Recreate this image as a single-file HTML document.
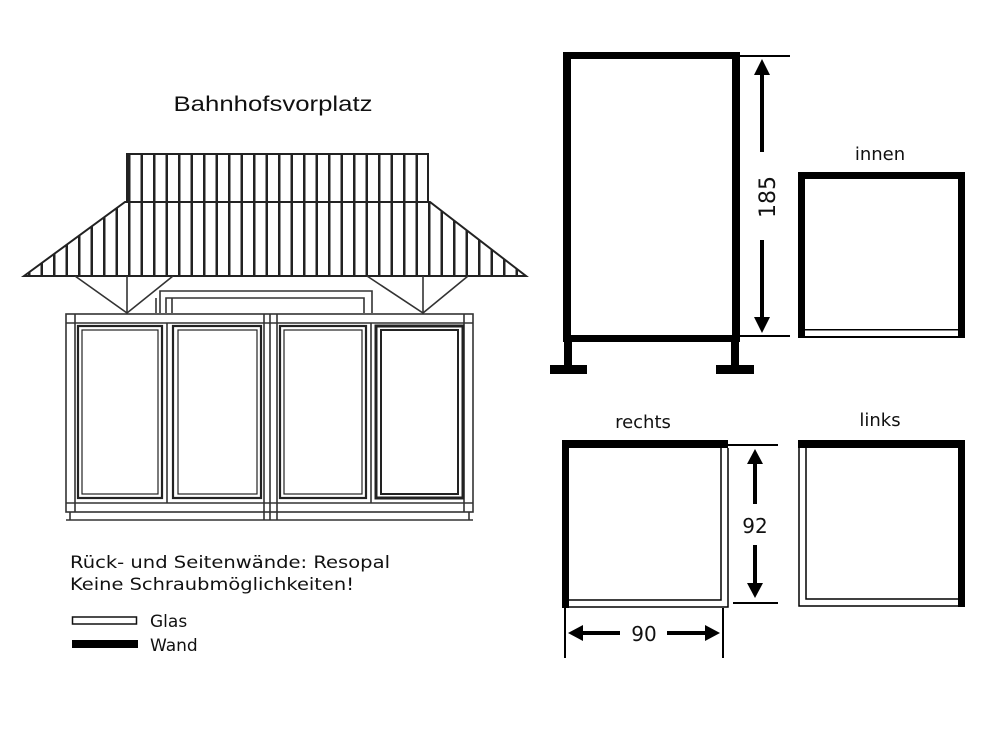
<!DOCTYPE html>
<html><head><meta charset="utf-8"><style>
html,body{margin:0;padding:0;background:#fff;}
svg{display:block;}
text{font-family:"DejaVu Sans","Liberation Sans",sans-serif;fill:#111;}
</style></head><body>
<svg width="1000" height="750" viewBox="0 0 1000 750" xmlns="http://www.w3.org/2000/svg">
<defs>
<pattern id="st" patternUnits="userSpaceOnUse" x="128" y="0" width="12.5" height="10">
<rect x="0" y="0" width="2.5" height="10" fill="#222"/>
</pattern>
<clipPath id="trap"><polygon points="24,276 125,202 430,202 526,276"/></clipPath>
</defs>

<!-- title -->
<text x="273" y="111" text-anchor="middle" font-size="21" style="font-family:'Liberation Sans',sans-serif" textLength="199" lengthAdjust="spacingAndGlyphs">Bahnhofsvorplatz</text>

<!-- roof upper block -->
<g stroke="#222" fill="none" stroke-width="2">
<rect x="127" y="154" width="301" height="48" fill="url(#st)"/>
<polygon points="24,276 125,202 430,202 526,276"/>
</g>
<rect x="20" y="202" width="510" height="74" fill="url(#st)" clip-path="url(#trap)"/>

<!-- brackets -->
<g stroke="#333" stroke-width="1.6" fill="none">
<polyline points="75,276 127,313 173,276"/>
<line x1="127" y1="276" x2="127" y2="313"/>
<polyline points="367,276 423,313 468,276"/>
<line x1="423" y1="276" x2="423" y2="313"/>
<path d="M160,313 V291 H372 V313 M166,313 V298 H364 V313 M156,298 V313 M172,298 V313"/>
</g>

<!-- main frame -->
<g stroke="#333" stroke-width="1.6" fill="none">
<rect x="66" y="314" width="407" height="198"/>
<line x1="66" y1="323" x2="473" y2="323"/>
<line x1="75" y1="314" x2="75" y2="512"/>
<line x1="464" y1="314" x2="464" y2="512"/>
<line x1="264" y1="314" x2="264" y2="512"/>
<line x1="270" y1="314" x2="270" y2="520"/>
<line x1="277" y1="314" x2="277" y2="512"/>
<line x1="66" y1="503" x2="473" y2="503"/>
<line x1="66" y1="520" x2="473" y2="520"/>
<line x1="70" y1="512" x2="70" y2="520"/>
<line x1="469" y1="512" x2="469" y2="520"/>
<line x1="264" y1="512" x2="264" y2="520"/>
<line x1="277" y1="512" x2="277" y2="520"/>
<line x1="167" y1="323" x2="167" y2="503"/>
<line x1="371" y1="323" x2="371" y2="503"/>
</g>
<g stroke="#222" stroke-width="2.2" fill="none">
<rect x="78" y="326" width="84" height="172"/>
<rect x="82" y="330" width="76" height="164" stroke-width="1.2"/>
<rect x="173" y="326" width="88" height="172"/>
<rect x="178" y="330" width="79" height="164" stroke-width="1.2"/>
<rect x="280" y="326" width="86" height="172"/>
<rect x="284" y="330" width="78" height="164" stroke-width="1.2"/>
<rect x="376" y="326" width="87" height="172" stroke-width="3"/>
<rect x="381" y="330" width="77" height="164" stroke-width="2"/>
</g>

<!-- legend -->
<text x="70" y="568" font-size="17" textLength="320" lengthAdjust="spacingAndGlyphs">Rück- und Seitenwände: Resopal</text>
<text x="70" y="590" font-size="17" textLength="284" lengthAdjust="spacingAndGlyphs">Keine Schraubmöglichkeiten!</text>
<rect x="72.5" y="617" width="64" height="7" fill="#fff" stroke="#111" stroke-width="1.5"/>
<text x="150" y="627" font-size="17">Glas</text>
<rect x="72" y="640" width="66" height="8" fill="#000"/>
<text x="150" y="651" font-size="17">Wand</text>

<!-- big side element -->
<g fill="#000">
<rect x="563" y="52" width="177" height="7"/>
<rect x="563" y="335" width="177" height="7"/>
<rect x="563" y="52" width="8" height="290"/>
<rect x="732" y="52" width="8" height="290"/>
<rect x="564" y="342" width="8" height="25"/>
<rect x="550" y="365" width="37" height="9"/>
<rect x="731" y="342" width="8" height="25"/>
<rect x="716" y="365" width="38" height="9"/>
</g>
<g stroke="#000" stroke-width="2" fill="none">
<line x1="740" y1="56" x2="790" y2="56"/>
<line x1="740" y1="336" x2="790" y2="336"/>
</g>
<g fill="#000">
<rect x="760" y="72" width="4" height="80"/>
<polygon points="762,59 754,75 770,75"/>
<rect x="760" y="240" width="4" height="78"/>
<polygon points="762,333 754,317 770,317"/>
</g>
<text x="0" y="0" font-size="22" text-anchor="middle" transform="translate(775,197) rotate(-90)">185</text>

<!-- innen -->
<text x="880" y="160" font-size="18" text-anchor="middle">innen</text>
<g fill="#000">
<rect x="798" y="172" width="167" height="7"/>
<rect x="798" y="172" width="7" height="166"/>
<rect x="958" y="172" width="7" height="166"/>
<rect x="805" y="329" width="153" height="1.5"/>
<rect x="805" y="336" width="153" height="2"/>
</g>

<!-- rechts -->
<text x="643" y="428" font-size="18" text-anchor="middle">rechts</text>
<g fill="#000">
<rect x="562" y="440" width="166" height="8"/>
<rect x="562" y="440" width="7" height="168"/>
</g>
<g stroke="#000" stroke-width="1.5" fill="none">
<path d="M569,600 H721 V448"/>
<path d="M569,607 H728 V448"/>
</g>
<g stroke="#000" stroke-width="2" fill="none">
<line x1="728" y1="445" x2="778" y2="445"/>
<line x1="733" y1="603" x2="778" y2="603"/>
<line x1="565" y1="608" x2="565" y2="658"/>
<line x1="723" y1="608" x2="723" y2="658"/>
</g>
<g fill="#000">
<rect x="753" y="460" width="4" height="44"/>
<polygon points="755,449 747,464 763,464"/>
<rect x="753" y="545" width="4" height="42"/>
<polygon points="755,598 747,583 763,583"/>
<rect x="580" y="631" width="40" height="4"/>
<polygon points="568,633 583,625 583,641"/>
<rect x="667" y="631" width="41" height="4"/>
<polygon points="720,633 705,625 705,641"/>
</g>
<text x="755" y="533" font-size="20" text-anchor="middle">92</text>
<text x="644" y="641" font-size="20" text-anchor="middle">90</text>

<!-- links -->
<text x="880" y="426" font-size="18" text-anchor="middle">links</text>
<g fill="#000">
<rect x="798" y="440" width="167" height="8"/>
<rect x="958" y="440" width="7" height="167"/>
</g>
<g stroke="#000" stroke-width="1.5" fill="none">
<path d="M958,599 H806 V448"/>
<path d="M958,606 H799 V448"/>
</g>
</svg>
</body></html>
